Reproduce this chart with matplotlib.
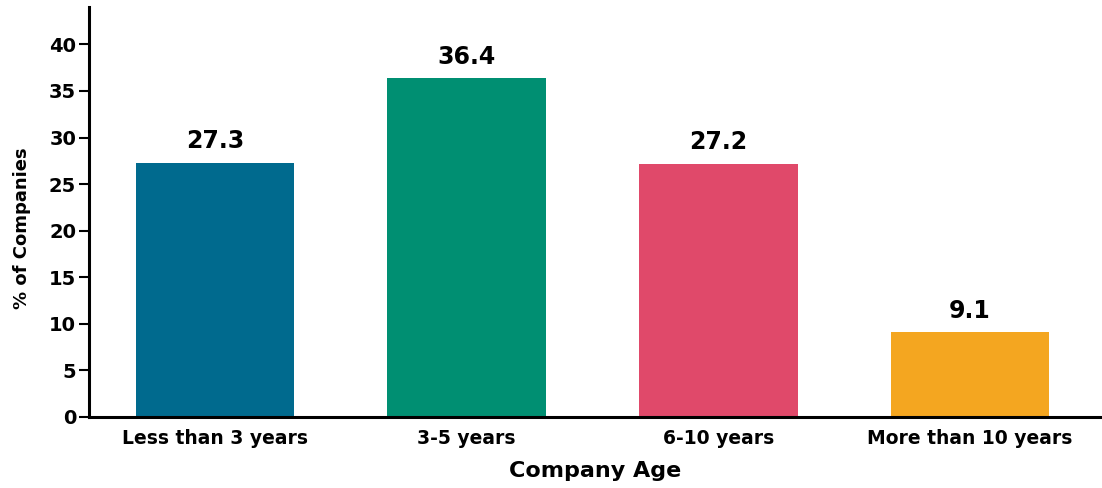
import matplotlib.pyplot as plt
import numpy as np

# Share of companies by age bracket
age_groups = ['Less than 3 years', '3-5 years', '6-10 years', 'More than 10 years']
pct_companies = [27.3, 36.4, 27.2, 9.1]
bar_colors = ['#006a8e', '#008f72', '#e0496a', '#f4a620']

plt.rcParams['font.family'] = ['DejaVu Sans']

fig = plt.figure(figsize=(11.02, 4.88), dpi=100)
ax = fig.add_axes([0.081, 0.1455, 0.918, 0.84])

x = np.arange(len(age_groups))
bars = ax.bar(x, pct_companies, width=0.63, color=bar_colors)

# value labels above each bar
for rect, val in zip(bars, pct_companies):
    ax.text(rect.get_x() + rect.get_width() / 2, val + 1.0, f'{val}',
            ha='center', va='bottom', fontsize=17, fontweight='bold')

ax.set_xlim(-0.5, 3.52)
ax.set_ylim(0, 44)
ax.set_yticks(np.arange(0, 41, 5))
ax.set_xticks(x)
ax.set_xticklabels(age_groups, fontsize=13.5, fontweight='semibold')
for lbl in ax.get_yticklabels():
    lbl.set_fontweight('bold')
    lbl.set_fontsize(14)

ax.spines['top'].set_visible(False)
ax.spines['right'].set_visible(False)
ax.spines['left'].set_linewidth(2.2)
ax.spines['bottom'].set_linewidth(2.2)
ax.tick_params(axis='y', length=7, width=1.5, pad=2.5)
ax.tick_params(axis='x', length=0, pad=9)

ax.set_xlabel('Company Age', fontsize=16, fontweight='bold', labelpad=9)
ax.set_ylabel('% of Companies', fontsize=13, fontweight='bold')
ax.yaxis.set_label_coords(-0.058, 0.46)

fig.savefig('out.png', dpi=100)
